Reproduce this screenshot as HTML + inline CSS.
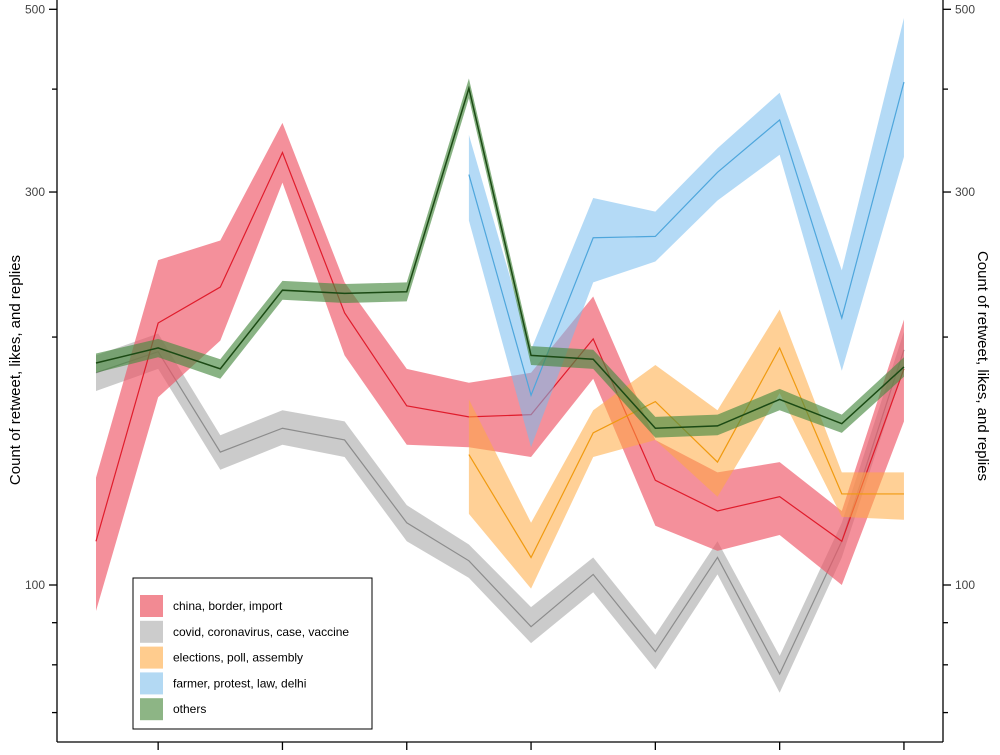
<!DOCTYPE html>
<html><head><meta charset="utf-8"><style>
body{margin:0;background:#fff;font-family:"Liberation Sans",sans-serif}
svg text{font-family:"Liberation Sans",sans-serif}
</style></head><body>
<svg id="c" width="1000" height="750" xmlns="http://www.w3.org/2000/svg"></svg>
<script>
const periods=[0,1,2,3,4,5,6,7,8,9,10,11,12,13];
const chinaMid=[113,208,230,335,214,165,160,161,199,134,123,128,113,183];
const chinaLo=[93,169,198,308,190,148,147,143,178,118,110,115,100,158];
const chinaHi=[135,248,262,364,233,183,176,181,224,150,137,141,123,210];
const covidMid=[181,192,145,155,150,119,107,89,103,83,108,78,113,193];
const covidLo=[172,183,138,148,143,113,102,85,98,79,103,74,108,184];
const covidHi=[190,202,152,163,158,125,112,94,108,87,113,82,119,203];
const electStart=6;
const electMid=[144,108,153,167,141,194,129,129];
const electLo=[122,99,143,150,128,171,121,120];
const electHi=[168,119,163,185,163,216,137,137];
const farmerMid=[315,170,264,265,317,367,211,408];
const farmerLo=[277,147,233,247,293,333,182,331];
const farmerHi=[352,193,295,284,339,396,241,488];
const othersMid=[186,194,183,228,226,227,401,190,188,155,156,168,157,184];
const othersLo=[181,189,178,222,220,221,390,185,183,151,152,163,153,179];
const othersHi=[191,199,188,234,232,233,412,195,193,160,161,173,161,189];
const yTicks=[100,300,500];
const yMinor=[70,80,90,200,400];

const NS="http://www.w3.org/2000/svg",svg=document.getElementById('c');
const X=i=>96+i*62.15;
const Y=v=>585-357.7*Math.log(v/100);
function el(t,a,p){const e=document.createElementNS(NS,t);for(const k in a)e.setAttribute(k,a[k]);(p||svg).appendChild(e);return e;}
function series(name,start,mid,lo,hi,fill,line,lw,op){
  const g=el('g',{});
  
  
  let d='';
  hi.forEach((v,i)=>d+=(i?'L':'M')+X(start+i)+','+Y(v));
  for(let i=lo.length-1;i>=0;i--)d+='L'+X(start+i)+','+Y(lo[i]);
  const b=el('path',{d:d+'Z',fill:fill,'fill-opacity':op},g);
  
  
  const l=el('polyline',{points:mid.map((v,i)=>X(start+i)+','+Y(v)).join(' '),fill:'none',stroke:line,'stroke-width':lw},g);
  
  
}
series('covid',0,covidMid,covidLo,covidHi,'#c8c8c8','#8c8c8c',1.2,0.95);
series('china',0,chinaMid,chinaLo,chinaHi,'#ee5566','#e01c2c',1.2,0.65);
series('elections',electStart,electMid,electLo,electHi,'#ffa940','#f09a10',1.2,0.55);
series('farmer',electStart,farmerMid,farmerLo,farmerHi,'#77bbee','#4ea6dc',1.2,0.55);
series('others',0,othersMid,othersLo,othersHi,'#4a8a42','#1b4a14',1.5,0.65);

const ax=el('g',{stroke:'#000','stroke-width':1.3});


el('line',{x1:57,y1:0,x2:57,y2:742},ax);
el('line',{x1:943,y1:0,x2:943,y2:742},ax);
el('line',{x1:57,y1:742,x2:943,y2:742},ax);
periods.forEach(i=>{if(i%2==1){el('line',{x1:X(i),y1:742,x2:X(i),y2:750},ax);}});
yTicks.forEach(v=>{
  el('line',{x1:49,y1:Y(v),x2:57,y2:Y(v)},ax);
  el('line',{x1:943,y1:Y(v),x2:951,y2:Y(v)},ax);
  const t1=el('text',{x:45,y:Y(v)+4,'text-anchor':'end','font-size':12,fill:'#444'});t1.textContent=v;
  
  
  const t2=el('text',{x:955,y:Y(v)+4,'font-size':12,fill:'#444'});t2.textContent=v;
  
  
});
yMinor.forEach(v=>{el('line',{x1:52,y1:Y(v),x2:57,y2:Y(v)},ax);el('line',{x1:943,y1:Y(v),x2:948,y2:Y(v)},ax);});
const yl=el('text',{transform:'translate(20,370) rotate(-90)','text-anchor':'middle','font-size':15});
yl.textContent='Count of retweet, likes, and replies';


const yr=el('text',{transform:'translate(978,366) rotate(90)','text-anchor':'middle','font-size':15});
yr.textContent='Count of retweet, likes, and replies';



const lg=el('g',{});


el('rect',{x:133,y:578,width:239,height:151,fill:'#fff',stroke:'#000','stroke-width':1},lg);
const entries=[['china, border, import','#f28a93'],['covid, coronavirus, case, vaccine','#cccccc'],['elections, poll, assembly','#ffcc8e'],['farmer, protest, law, delhi','#b3d9f3'],['others','#8db585']];
entries.forEach((e,i)=>{
  const y=606+i*25.8;
  const r=el('rect',{x:140,y:y-11,width:23,height:22,fill:e[1]},lg);
  
  
  const t=el('text',{x:173,y:y+4,'font-size':12},lg);t.textContent=e[0];
  
  
});
</script>
</body></html>
